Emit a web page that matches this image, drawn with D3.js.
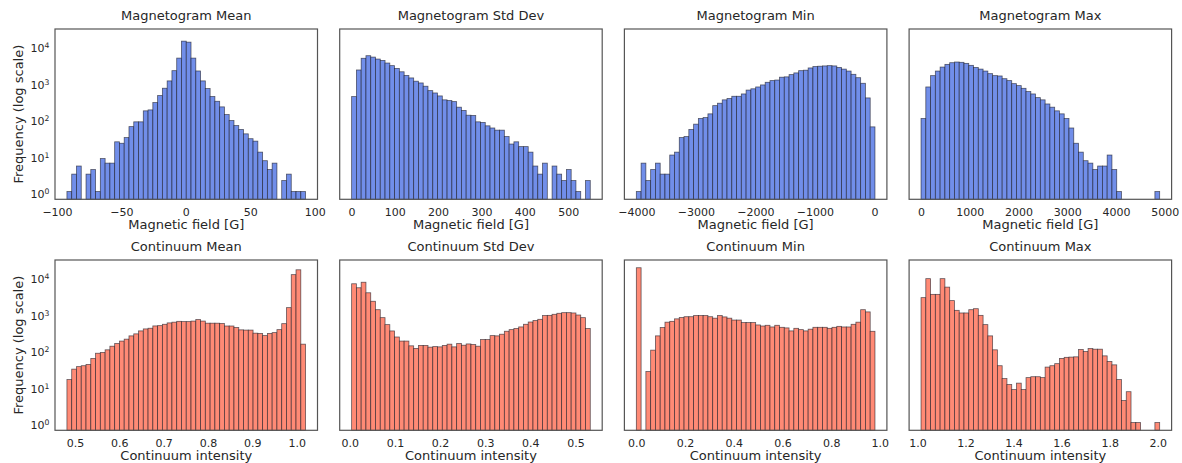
<!DOCTYPE html>
<html>
<head>
<meta charset="utf-8">
<script src="https://cdn.jsdelivr.net/npm/d3@7"></script>
<style>
  body { margin: 0; background: #fff; }
  svg text { font-family: 'DejaVu Sans', sans-serif; fill: #262626; }
</style>
</head>
<body>
<main></main>
<script>
// Layout
const w = 1182;
const h = 463;
const panelW = 262.5;
const panelH = 170.3;
const lefts = [55, 339.7, 624.4, 909.1];
const tops = [29, 260];

// Titles, labels
const titles = [
  'Magnetogram Mean', 'Magnetogram Std Dev', 'Magnetogram Min', 'Magnetogram Max',
  'Continuum Mean', 'Continuum Std Dev', 'Continuum Min', 'Continuum Max',
];
const xLabels = ['Magnetic field [G]', 'Continuum intensity'];
const yLabel = 'Frequency (log scale)';

// Histogram counts (50 bins each)
const magMeanCounts = [1, 3, 5, 0, 3, 4, 1, 8, 6, 6, 23, 21, 30, 60, 81, 81, 162, 172, 273, 425,
  674, 1070, 2040, 4500, 13100, 12300, 4500, 2000, 1070, 660, 400, 296, 208, 128, 88, 64, 50, 38, 28, 24,
  12, 7, 4, 6, 0, 2, 3, 1, 1, 1];
const magStdCounts = [398, 2130, 4450, 5240, 4800, 4240, 3880, 3300, 2800, 2350, 1900, 1510, 1290, 1050,
  940, 765, 580, 500, 415, 324, 310, 290, 204, 166, 123, 121, 81, 78, 63, 55, 48, 48, 32, 20, 23, 17, 17,
  12, 5, 3, 6, 0, 5, 3, 2, 4, 2, 1, 0, 2];
const magMinCounts = [1, 6, 2, 4, 6, 3, 3, 10, 12, 30, 32, 50, 70, 100, 106, 134, 225, 262, 324, 353,
  406, 406, 470, 600, 650, 730, 830, 980, 1090, 1130, 1350, 1380, 1590, 1770, 2040, 2100, 2420, 2640,
  2700, 2750, 2800, 2750, 2500, 2250, 1990, 1620, 1310, 920, 366, 59];
const magMaxCounts = [100, 730, 1490, 1990, 2560, 3030, 3370, 3520, 3450, 3230, 2850, 2500, 2250, 1990,
  1690, 1490, 1460, 1230, 1090, 900, 795, 670, 545, 470, 373, 324, 250, 204, 162, 134, 100, 55, 21, 12,
  7, 6, 4, 5, 5, 10, 4, 1, 0, 0, 0, 0, 0, 0, 0, 1];
const contMeanCounts = [15, 29, 34, 36, 39, 57, 79, 83, 98, 123, 146, 170, 192, 236, 268, 323, 366, 382,
  442, 450, 490, 535, 560, 590, 580, 580, 600, 660, 600, 525, 525, 525, 515, 440, 440, 400, 345, 340, 340,
  280, 275, 240, 275, 290, 350, 510, 1400, 11200, 15200, 140];
const contStdCounts = [6300, 4900, 6940, 3570, 2090, 1230, 745, 480, 322, 220, 170, 170, 126, 107, 129,
  129, 116, 120, 118, 129, 140, 118, 146, 131, 142, 137, 123, 187, 187, 240, 236, 262, 316, 350, 375, 415,
  490, 566, 620, 670, 850, 860, 920, 980, 1020, 1020, 1000, 880, 745, 375];
const contMinCounts = [17300, 0, 25, 96, 236, 400, 560, 590, 690, 750, 790, 790, 850, 850, 850, 790, 720,
  850, 780, 720, 640, 640, 545, 545, 545, 470, 440, 460, 414, 460, 405, 390, 323, 380, 350, 323, 360, 405,
  405, 405, 380, 405, 430, 414, 414, 490, 560, 1230, 1070, 315];
const contMaxCounts = [2630, 8700, 3230, 3230, 8700, 5100, 2180, 1180, 1000, 1000, 1230, 1310, 860, 480,
  236, 98, 36, 16, 11, 8, 12, 8, 17, 18, 18, 17, 33, 36, 41, 57, 61, 62, 63, 100, 88, 106, 102, 102, 67,
  47, 38, 15, 4, 7, 1, 1, 0, 0, 0, 1];

// Bin ranges [first edge, last edge]
const binRanges = [
  [-92.3, 92.9], [0.5, 551], [-4000, 8], [0, 4895],
  [0.482, 1.02], [0.004, 0.533], [0, 0.98], [1.015, 2.008],
];

// Tick values
const magMeanTicks = [-100, -50, 0, 50, 100];
const magStdTicks = [0, 100, 200, 300, 400, 500];
const magMinTicks = [-4000, -3000, -2000, -1000, 0];
const magMaxTicks = [0, 1000, 2000, 3000, 4000, 5000];
const contMeanTicks = [0.5, 0.6, 0.7, 0.8, 0.9, 1.0];
const contStdTicks = [0, 0.1, 0.2, 0.3, 0.4, 0.5];
const contMinTicks = [0, 0.2, 0.4, 0.6, 0.8, 1.0];
const contMaxTicks = [1.0, 1.2, 1.4, 1.6, 1.8, 2.0];
const yTicks = [1, 10, 100, 1000, 10000];

const blue = '#718ee9';
const red = '#ff8a75';

const allCounts = [magMeanCounts, magStdCounts, magMinCounts, magMaxCounts,
  contMeanCounts, contStdCounts, contMinCounts, contMaxCounts];
const allTicks = [magMeanTicks, magStdTicks, magMinTicks, magMaxTicks,
  contMeanTicks, contStdTicks, contMinTicks, contMaxTicks];

// shared log y scale, 5% margins in log space like matplotlib
const maxLog = Math.log10(d3.max(allCounts.flat()));
const pad = 0.05 * maxLog;
const y = d3.scaleLog().domain([10 ** -pad, 10 ** (maxLog + pad)]).range([panelH, 0]);

const svg = d3.select('main').append('svg').attr('width', w).attr('height', h);

allCounts.forEach((counts, i) => {
  const row = Math.floor(i / 4);
  const col = i % 4;
  const [lo, hi] = binRanges[i];
  const n = counts.length;
  const step = (hi - lo) / n;
  const m = 0.05 * (hi - lo);
  const x = d3.scaleLinear().domain([lo - m, hi + m]).range([0, panelW]);
  const bins = counts.map((c, k) => ({ x0: lo + k * step, x1: lo + (k + 1) * step, c }));

  const g = svg.append('g').attr('transform', `translate(${lefts[col]},${tops[row]})`);

  g.selectAll('rect.bar')
    .data(bins.filter((d) => d.c > 0))
    .enter()
    .append('rect')
    .attr('class', 'bar')
    .attr('x', (d) => x(d.x0))
    .attr('width', (d) => x(d.x1) - x(d.x0))
    .attr('y', (d) => y(d.c))
    .attr('height', (d) => panelH - y(d.c))
    .attr('fill', row === 0 ? blue : red)
    .attr('stroke', 'rgba(20,20,30,0.65)')
    .attr('stroke-width', 0.8);

  // frame
  g.append('rect')
    .attr('width', panelW)
    .attr('height', panelH)
    .attr('fill', 'none')
    .attr('stroke', '#555')
    .attr('stroke-width', 1.2);

  const fmt = row === 0 ? d3.format('d') : d3.format('.1f');
  g.append('g')
    .attr('transform', `translate(0,${panelH})`)
    .call(d3.axisBottom(x).tickValues(allTicks[i]).tickFormat(fmt).tickSize(0).tickPadding(8.5))
    .call((a) => a.select('.domain').remove())
    .selectAll('text')
    .style('font-size', '11px')
    .attr('fill', '#262626');

  if (col === 0) {
    g.append('g')
      .call(d3.axisLeft(y).tickValues(yTicks).tickSize(0).tickPadding(5.5).tickFormat(''))
      .call((a) => a.select('.domain').remove())
      .selectAll('.tick text')
      .each(function (d) {
        const t = d3.select(this).attr('dy', '0.55em').style('font-size', '11px').attr('fill', '#262626');
        t.append('tspan').text('10');
        t.append('tspan').attr('dy', '-0.5em').style('font-size', '7.7px').text(Math.round(Math.log10(d)));
      });

    g.append('text')
      .attr('transform', `translate(${-37},${panelH / 2}) rotate(-90)`)
      .attr('text-anchor', 'middle')
      .attr('dy', '0.35em')
      .style('font-size', '13px')
      .text(yLabel);
  }

  g.append('text')
    .attr('x', panelW / 2)
    .attr('y', -14)
    .attr('text-anchor', 'middle')
    .attr('dy', '0.35em')
    .style('font-size', '13px')
    .text(titles[i]);

  g.append('text')
    .attr('x', panelW / 2)
    .attr('y', panelH + 25.5)
    .attr('text-anchor', 'middle')
    .attr('dy', '0.35em')
    .style('font-size', '13px')
    .text(xLabels[row]);
});
</script>
</body>
</html>
